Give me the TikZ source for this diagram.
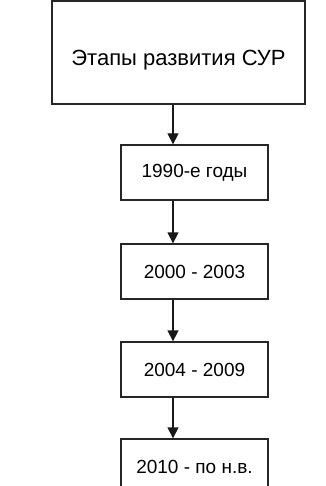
\documentclass[tikz,border=0pt]{standalone}
\usepackage{fontspec}
\setmainfont{Liberation Sans}
\usetikzlibrary{arrows.meta}
\begin{document}
\begin{tikzpicture}[x=1pt,y=-1pt,
  stagebox/.style={draw=black!85, line width=1.3pt, fill=white,
    minimum width=147pt, minimum height=55pt, inner sep=0pt,
    font=\fontsize{19}{21}\selectfont},
  link/.style={draw=black!90, line width=1.3pt,
    -{Triangle[length=11pt,width=11pt]}}]
\useasboundingbox (0,0) rectangle (325,486);
\clip (0,0) rectangle (325,486);
\coordinate (axis) at (173,0);
% heading box, its caption sits a little below the middle
\node[stagebox, minimum width=253pt, minimum height=103pt,
  label={[yshift=-8pt, font=\fontsize{22}{24}\selectfont]center:Этапы развития СУР}]
  (head) at (178.5,52.5) {};
\node[stagebox] (s1) at (194.5,172.5) {1990-е годы};
\node[stagebox] (s2) at (194.5,271.5) {2000 - 2003};
\node[stagebox] (s3) at (194.5,369.5) {2004 - 2009};
\node[stagebox] (s4) at (194.5,466.5) {2010 - по н.в.};
\draw[link] (head.south -| axis) -- (s1.north -| axis);
\draw[link] (s1.south -| axis) -- (s2.north -| axis);
\draw[link] (s2.south -| axis) -- (s3.north -| axis);
\draw[link] (s3.south -| axis) -- (s4.north -| axis);
\end{tikzpicture}
\end{document}
